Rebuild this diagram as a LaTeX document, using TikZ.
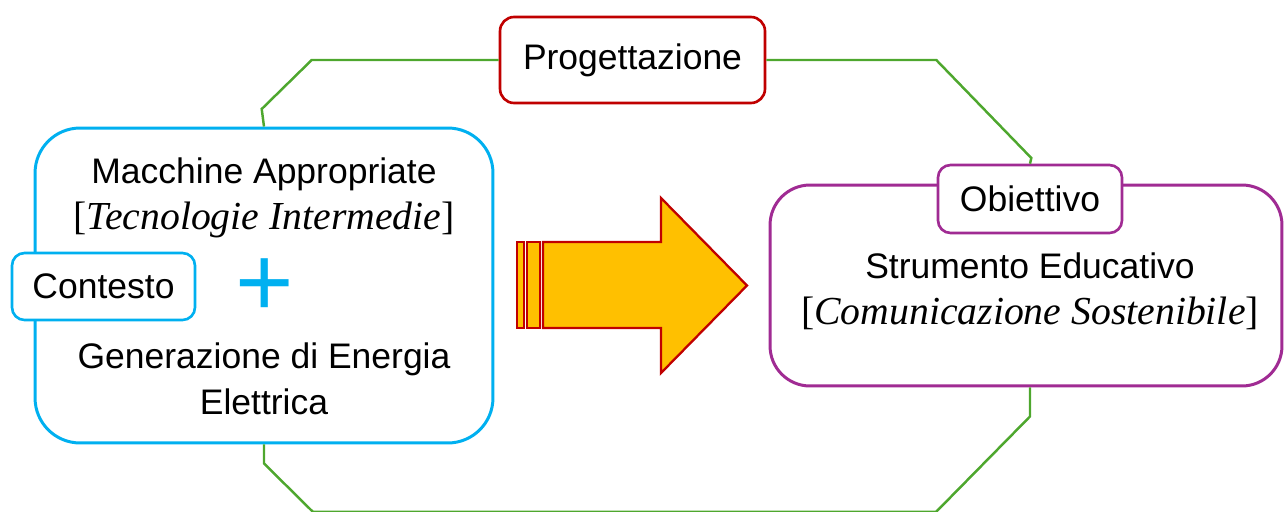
\documentclass[tikz,border=0pt]{standalone}
\usepackage{fontspec}
\setsansfont{Liberation Sans}
\newfontfamily\serifkursiv{Liberation Serif}
\usetikzlibrary{positioning}
\definecolor{himmel}{RGB}{0,176,240}
\definecolor{gronn}{RGB}{78,167,46}
\definecolor{rod}{RGB}{192,0,0}
\definecolor{lilla}{RGB}{160,43,147}
\definecolor{gul}{RGB}{255,192,0}
\tikzset{
    %Define style for the big boxes
    boks/.style={
           rectangle,
           draw, fill=white,
           line width=1.7pt},
    %Define style for the small labels
    merke/.style={
           rectangle,
           draw, fill=white,
           line width=1.5pt,
           rounded corners=0.25cm,
           font=\sffamily\fontsize{20.2}{26.2}\selectfont},
    % text inside the boxes
    tekst/.style={
           align=center,
           inner sep=0pt,
           font=\sffamily\fontsize{20.2}{26.2}\selectfont},
    % Define line style
    lenke/.style={
           draw=gronn,
           line width=1.4pt},
    % the big arrow
    pilform/.style={
           draw=rod, fill=gul,
           line width=1.3pt,
           line join=miter}
}
\newcommand{\kursiv}[1]{{\serifkursiv\fontsize{22.6}{26.2}\selectfont[\textit{#1}]}}

\begin{document}
\begin{tikzpicture}[x=0.02cm,y=-0.02cm]
\useasboundingbox (0,0) rectangle (1284,511);
\node [boks,draw=himmel,rounded corners=0.9cm,minimum width=9.16cm,minimum height=6.3cm] (ctx) at (264,285.5) {};
\node [boks,draw=lilla,rounded corners=0.8cm,minimum width=10.24cm,minimum height=4.02cm] (goal) at (1026,285.5) {};
\node [merke,draw=rod,rounded corners=0.28cm,minimum width=5.3cm,minimum height=1.72cm] (progett) at (632.5,60) {Progettazione};
\node [merke,draw=himmel,minimum width=3.66cm,minimum height=1.34cm] (contesto) at (103.5,286.5) {Contesto};
\node [merke,draw=lilla,minimum width=3.68cm,minimum height=1.36cm] (obiettivo) at (1030,199) {Obiettivo};
\node [tekst] (macchine) at (264,198) {Macchine Appropriate\\\kursiv{Tecnologie Intermedie}};
\node [tekst,text=himmel,font=\sffamily\fontsize{57}{57}\selectfont] (plus) at (265,288) {+};
\node [tekst] (generazione) at (264,378.5) {Generazione di Energia\\Elettrica};
\node [tekst] (strumento) at (1030,291) {Strumento Educativo\\\kursiv{Comunicazione Sostenibile}};

% green frame
\draw [lenke] (progett.west) -- ++(-187,0) -- ++(-50,49) -- (ctx.north);
\draw [lenke] (progett.east) -- ++(170,0) -- ++(95,98) -- (obiettivo.north);
\draw [lenke] (ctx.south) -- ++(0,19) -- ++(49,48.5) -- ++(623,0) -- ++(94,-95.5) -- (obiettivo |- goal.south);

% arrow
\draw [pilform] (517,242) rectangle (524,328);
\draw [pilform] (527,242) rectangle (540,328);
\draw [pilform] (543,242) -- (661,242) -- (661,198) -- (747,285.5) -- (661,373) -- (661,328) -- (543,328) -- cycle;
\end{tikzpicture}
\end{document}
